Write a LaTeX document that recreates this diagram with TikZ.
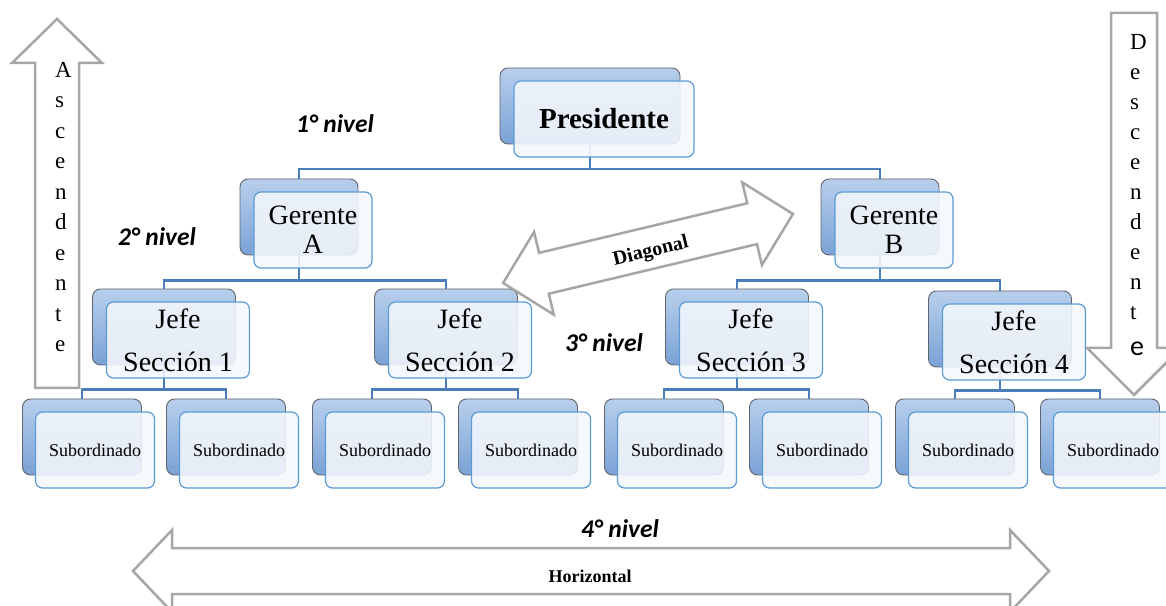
\documentclass[tikz,border=0pt]{standalone}
\usepackage{fontspec}
\setmainfont{Liberation Serif}
\newfontfamily\calibri{Carlito}
\usetikzlibrary{calc}
\definecolor{boxtop}{RGB}{184,207,236}
\definecolor{boxbot}{RGB}{122,162,214}
\definecolor{boxedge}{RGB}{96,100,108}
\definecolor{frontedge}{RGB}{91,155,213}
\definecolor{frontfill}{RGB}{244,247,252}
\definecolor{connblue}{RGB}{74,126,187}
\definecolor{arrgray}{RGB}{166,166,166}

\begin{document}
\begin{tikzpicture}[x=1pt, y=1pt,
    back/.style={draw=boxedge, line width=0.9pt, rounded corners=8pt, top color=boxtop, bottom color=boxbot, minimum height=76pt, inner sep=0pt},
    front/.style={draw=frontedge, line width=1.2pt, rounded corners=7pt, fill=frontfill, fill opacity=0.88, text opacity=1, minimum height=76pt, inner sep=0pt, align=center, font=\fontsize{28}{29}\selectfont},
    subtxt/.style={font=\fontsize{18}{20}\selectfont},
    conn/.style={draw=connblue, line width=2.6pt},
    blockarr/.style={draw=arrgray, line width=2.5pt, fill=white, line join=miter},
    vtxt/.style={inner sep=0pt, align=left, anchor=north west, font=\fontsize{23}{30.5}\selectfont},
    lvl/.style={font=\calibri\bfseries\itshape\fontsize{25.5}{27}\selectfont},
]
\clip (0,0) rectangle (1166,605);

% Back boxes
\node[back, minimum width=180pt] (presbk) at (590,499) {};
\node[back, minimum width=118pt] (gerabk) at (299,388) {};
\node[back, minimum width=118pt] (gerbbk) at (880,388) {};
\node[back, minimum width=143pt] (jefe1bk) at (164,278) {};
\node[back, minimum width=143pt] (jefe2bk) at (446,278) {};
\node[back, minimum width=143pt] (jefe3bk) at (737,278) {};
\node[back, minimum width=143pt] (jefe4bk) at (1000,276) {};
\node[back, minimum width=119pt] (sub1bk) at (82,168) {};
\node[back, minimum width=119pt] (sub2bk) at (226,168) {};
\node[back, minimum width=119pt] (sub3bk) at (372,168) {};
\node[back, minimum width=119pt] (sub4bk) at (518,168) {};
\node[back, minimum width=119pt] (sub5bk) at (664,168) {};
\node[back, minimum width=119pt] (sub6bk) at (809,168) {};
\node[back, minimum width=119pt] (sub7bk) at (955,168) {};
\node[back, minimum width=119pt] (sub8bk) at (1100,168) {};

% Connectors
\draw[conn] (presbk.south) -- ++(0,-24.5) -| (gerabk.north);
\draw[conn] (presbk.south) -- ++(0,-24.5) -| (gerbbk.north);
\draw[conn] (gerabk.south) -- ++(0,-25) -| (jefe1bk.north);
\draw[conn] (gerabk.south) -- ++(0,-25) -| (jefe2bk.north);
\draw[conn] (gerbbk.south) -- ++(0,-25) -| (jefe3bk.north);
\draw[conn] (gerbbk.south) -- ++(0,-25) -| (jefe4bk.north);
\draw[conn] (jefe1bk.south) -- ++(0,-24) -| (sub1bk.north);
\draw[conn] (jefe1bk.south) -- ++(0,-24) -| (sub2bk.north);
\draw[conn] (jefe2bk.south) -- ++(0,-24) -| (sub3bk.north);
\draw[conn] (jefe2bk.south) -- ++(0,-24) -| (sub4bk.north);
\draw[conn] (jefe3bk.south) -- ++(0,-24) -| (sub5bk.north);
\draw[conn] (jefe3bk.south) -- ++(0,-24) -| (sub6bk.north);
\draw[conn] (jefe4bk.south) -- ++(0,-23) -| (sub7bk.north);
\draw[conn] (jefe4bk.south) -- ++(0,-23) -| (sub8bk.north);

% Front boxes
\node[front, minimum width=180pt, font=\bfseries\fontsize{29}{30}\selectfont] (pres) at (604,486) {Presidente};
\node[front, minimum width=118pt] (gera) at (313,375) {Gerente\\A};
\node[front, minimum width=118pt] (gerb) at (894,375) {Gerente\\B};
\node[front, minimum width=143pt] (jefe1) at (178,265) {Jefe\\[14pt]Sección 1};
\node[front, minimum width=143pt] (jefe2) at (460,265) {Jefe\\[14pt]Sección 2};
\node[front, minimum width=143pt] (jefe3) at (751,265) {Jefe\\[14pt]Sección 3};
\node[front, minimum width=143pt] (jefe4) at (1014,263) {Jefe\\[14pt]Sección 4};
\node[front, subtxt, minimum width=119pt] (sub1) at (95,155) {Subordinado};
\node[front, subtxt, minimum width=119pt] (sub2) at (239,155) {Subordinado};
\node[front, subtxt, minimum width=119pt] (sub3) at (385,155) {Subordinado};
\node[front, subtxt, minimum width=119pt] (sub4) at (531,155) {Subordinado};
\node[front, subtxt, minimum width=119pt] (sub5) at (677,155) {Subordinado};
\node[front, subtxt, minimum width=119pt] (sub6) at (822,155) {Subordinado};
\node[front, subtxt, minimum width=119pt] (sub7) at (968,155) {Subordinado};
\node[front, subtxt, minimum width=119pt] (sub8) at (1113,155) {Subordinado};

% Ascendente / Descendente
\draw[blockarr] (35,217) -- (35,542) -- (12,542) -- (57,586) -- (102,542) -- (79,542) -- (79,217) -- cycle;
\node[vtxt] (asc) at (55,543) {A\\s\\c\\e\\n\\d\\e\\n\\t\\e};
\draw[blockarr] (1111,592) -- (1111,257) -- (1087,257) -- (1134,210) -- (1181,257) -- (1157,257) -- (1157,592) -- cycle;
\node[vtxt, font=\fontsize{23}{30}\selectfont] (desc) at (1130,571) {D\\e\\s\\c\\e\\n\\d\\e\\n\\t\\[6pt]{\calibri\fontsize{28}{30}\selectfont e}};

% Diagonal
\begin{scope}[shift={(648,356.5)}, rotate=13.4]
\draw[blockarr] (-149,0) -- (-107,42.5) -- (-107,21) -- (107,21) -- (107,42.5) -- (149,0) -- (107,-42.5) -- (107,-21) -- (-107,-21) -- (-107,-42.5) -- cycle;
\node[transform shape, font=\bfseries\fontsize{20}{22}\selectfont] (diag) at (2,-4) {Diagonal};
\end{scope}

% Horizontal
\draw[blockarr] (133,34) -- (172,75) -- (172,57) -- (1010,57) -- (1010,75) -- (1049,34) -- (1010,-7) -- (1010,11) -- (172,11) -- (172,-7) -- cycle;
\node[font=\bfseries\fontsize{18}{20}\selectfont] (horiz) at (590,29) {Horizontal};

% Levels
\node[lvl] (lvl1) at (335,481) {1° nivel};
\node[lvl] (lvl2) at (157,368) {2° nivel};
\node[lvl] (lvl3) at (604,262) {3° nivel};
\node[lvl] (lvl4) at (620,76) {4° nivel};
\end{tikzpicture}
\end{document}
